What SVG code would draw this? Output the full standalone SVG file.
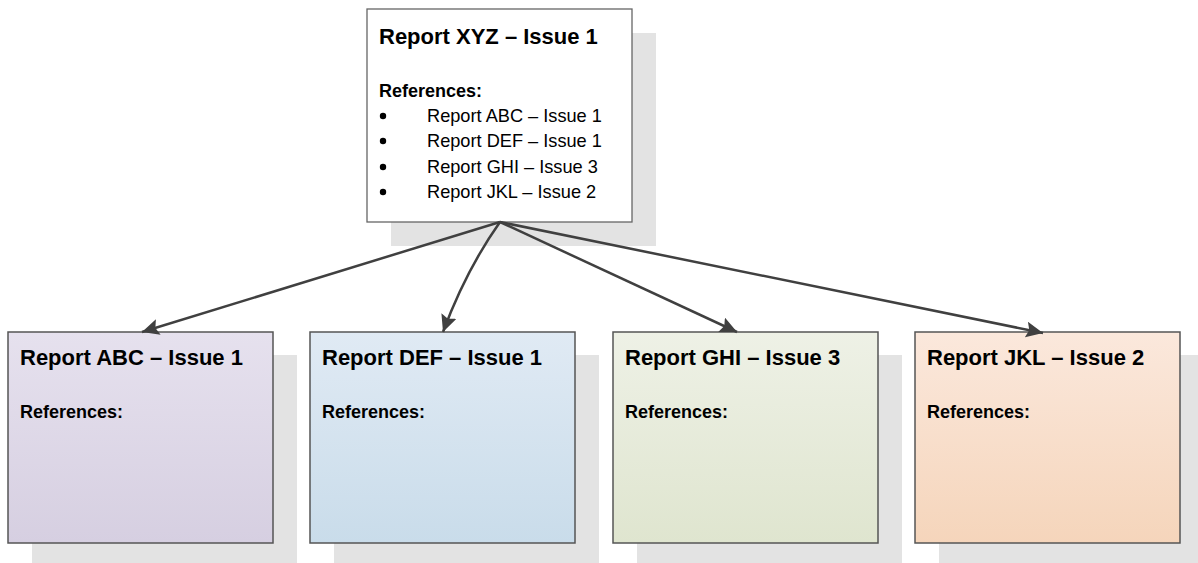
<svg xmlns="http://www.w3.org/2000/svg" width="1198" height="563" viewBox="0 0 1198 563">
<style>
.shadow{fill:#e3e3e3}
.box{stroke:#555;stroke-width:1.5}
.title{font-family:"Liberation Sans",Arial,sans-serif;font-weight:bold;font-size:22px;fill:#000}
.refs{font-family:"Liberation Sans",Arial,sans-serif;font-weight:bold;font-size:18px;fill:#000}
.item{font-family:"Liberation Sans",Arial,sans-serif;font-size:18.2px;fill:#000}
.conn{fill:none;stroke:#404040;stroke-width:2.5}
</style>
<defs>
<linearGradient id="gA" x1="0" y1="0" x2="0" y2="1"><stop offset="0" stop-color="#e6e1ee"/><stop offset="1" stop-color="#d6cfe1"/></linearGradient>
<linearGradient id="gD" x1="0" y1="0" x2="0" y2="1"><stop offset="0" stop-color="#e0eaf4"/><stop offset="1" stop-color="#c9dcea"/></linearGradient>
<linearGradient id="gG" x1="0" y1="0" x2="0" y2="1"><stop offset="0" stop-color="#eef1e6"/><stop offset="1" stop-color="#dfe5cf"/></linearGradient>
<linearGradient id="gJ" x1="0" y1="0" x2="0" y2="1"><stop offset="0" stop-color="#fbe8dc"/><stop offset="1" stop-color="#f5d5bb"/></linearGradient>
<marker id="arr" markerUnits="userSpaceOnUse" markerWidth="20" markerHeight="16" refX="17" refY="8" orient="auto">
<path d="M0,0 L17,8 L0,16 L3,8 Z" fill="#404040"/>
</marker>
</defs>

<g id="xyz">
<rect class="shadow" x="391" y="33" width="265" height="213"/>
<rect x="367" y="9" width="265" height="213" fill="#fff" stroke="#666" stroke-width="1.3"/>
<text class="title" x="379" y="44">Report XYZ – Issue 1</text>
<text class="refs" x="379" y="97">References:</text>
<circle cx="383" cy="116" r="3.2" fill="#000"/>
<circle cx="383" cy="141" r="3.2" fill="#000"/>
<circle cx="383" cy="167" r="3.2" fill="#000"/>
<circle cx="383" cy="192" r="3.2" fill="#000"/>
<text class="item" x="427" y="122">Report ABC – Issue 1</text>
<text class="item" x="427" y="147">Report DEF – Issue 1</text>
<text class="item" x="427" y="173">Report GHI – Issue 3</text>
<text class="item" x="427" y="198">Report JKL – Issue 2</text>
</g>

<g id="abc">
<rect class="shadow" x="32" y="355" width="265" height="211"/>
<rect class="box" x="8" y="332" width="265" height="211" fill="url(#gA)"/>
<text class="title" x="20" y="365">Report ABC – Issue 1</text>
<text class="refs" x="20" y="418">References:</text>
</g>

<g id="def">
<rect class="shadow" x="334" y="355" width="265" height="211"/>
<rect class="box" x="310" y="332" width="265" height="211" fill="url(#gD)"/>
<text class="title" x="322" y="365">Report DEF – Issue 1</text>
<text class="refs" x="322" y="418">References:</text>
</g>

<g id="ghi">
<rect class="shadow" x="637" y="355" width="265" height="211"/>
<rect class="box" x="613" y="332" width="265" height="211" fill="url(#gG)"/>
<text class="title" x="625" y="365">Report GHI – Issue 3</text>
<text class="refs" x="625" y="418">References:</text>
</g>

<g id="jkl">
<rect class="shadow" x="939" y="355" width="265" height="211"/>
<rect class="box" x="915" y="332" width="265" height="211" fill="url(#gJ)"/>
<text class="title" x="927" y="365">Report JKL – Issue 2</text>
<text class="refs" x="927" y="418">References:</text>
</g>

<g id="connectors">
<path class="conn" d="M500,222 L142,332" marker-end="url(#arr)"/>
<path class="conn" d="M500,222 Q466,270 443,332" marker-end="url(#arr)"/>
<path class="conn" d="M500,222 L737,332" marker-end="url(#arr)"/>
<path class="conn" d="M500,222 L1043,333" marker-end="url(#arr)"/>
</g>
</svg>
